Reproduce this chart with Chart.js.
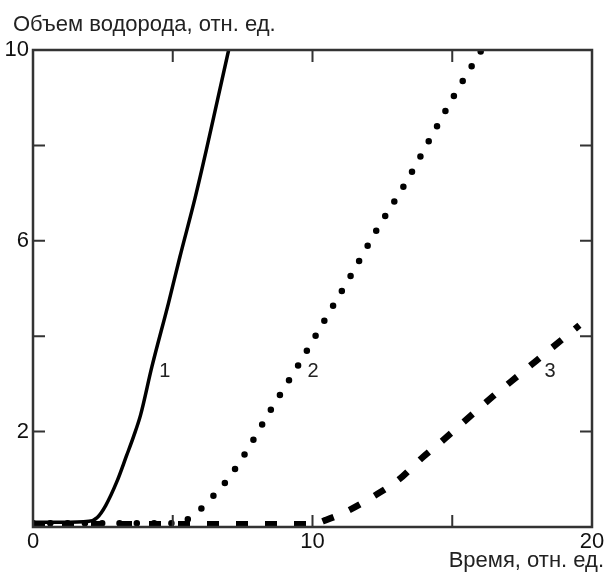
<!DOCTYPE html>
<html>
<head>
<meta charset="utf-8">
<script src="https://cdn.jsdelivr.net/npm/chart.js@4.4.1/dist/chart.umd.min.js"></script>
<style>
  html, body { margin: 0; padding: 0; background: #fff; }
  #wrap { width: 608px; height: 576px; }
</style>
</head>
<body>
<div id="wrap"><canvas id="h2-chart" width="608" height="576"></canvas></div>
<script>
// Curve 1 (solid)
const time1 = [0, 1, 2, 2.3, 2.6, 3.0, 3.35, 3.6, 3.85, 4.25, 4.85, 5.25, 5.8, 6.2, 6.6, 7.0];
const volume1 = [0.1, 0.1, 0.12, 0.2, 0.45, 0.95, 1.5, 1.9, 2.35, 3.35, 4.7, 5.65, 6.9, 7.9, 8.95, 10];

// Curve 2 (dotted)
const time2 = [0, 5.0, 5.4, 5.95, 6.45, 6.9, 7.6, 8.5, 9.5, 10.5, 11.4, 12.35, 13.35, 14.2, 15.1, 16.05];
const volume2 = [0.08, 0.08, 0.12, 0.35, 0.65, 0.95, 1.55, 2.45, 3.4, 4.4, 5.3, 6.28, 7.23, 8.13, 9.08, 10];

// Curve 3 (dashed)
const time3 = [0, 10, 10.5, 11.2, 12.15, 13.1, 13.9, 14.75, 15.6, 16.5, 17.5, 18.45, 19.55];
const volume3 = [0.06, 0.06, 0.15, 0.32, 0.63, 1.0, 1.44, 1.86, 2.3, 2.76, 3.24, 3.7, 4.23];

// Curve numbers
const curveNames = ['1', '2', '3'];
const curveNameX = [4.72, 10.02, 18.5];
const curveNameY = [3.25, 3.25, 3.25];

// Axes
const xTickValues = [0, 5, 10, 15, 20];
const xTickLabels = ['0', '', '10', '', '20'];
const yTickValues = [0, 2, 4, 6, 8, 10];
const yTickLabels = ['', '2', '', '6', '', '10'];

const yTitle = 'Объем водорода, отн. ед.';
const xTitle = 'Время, отн. ед.';

const FONT = '"Liberation Sans", Arial, sans-serif';
const INK = '#000';
const AXIS = '#333';

function toPoints(xs, ys) {
  return xs.map((x, i) => ({ x: x, y: ys[i] }));
}

// frame with inward ticks, curve numbers and axis titles
const framePlugin = {
  id: 'frame',
  afterDraw(chart) {
    const ctx = chart.ctx;
    const a = chart.chartArea;
    const xs = chart.scales.x;
    const ys = chart.scales.y;
    ctx.save();
    ctx.strokeStyle = AXIS;
    ctx.lineWidth = 2.5;
    ctx.strokeRect(a.left, a.top, a.right - a.left, a.bottom - a.top);
    ctx.lineWidth = 2;
    const tl = 12;
    xTickValues.forEach(v => {
      if (v === xs.min || v === xs.max) return;
      const px = xs.getPixelForValue(v);
      ctx.beginPath();
      ctx.moveTo(px, a.bottom); ctx.lineTo(px, a.bottom - tl);
      ctx.moveTo(px, a.top); ctx.lineTo(px, a.top + tl);
      ctx.stroke();
    });
    yTickValues.forEach(v => {
      if (v === ys.min || v === ys.max) return;
      const py = ys.getPixelForValue(v);
      ctx.beginPath();
      ctx.moveTo(a.left, py); ctx.lineTo(a.left + tl, py);
      ctx.moveTo(a.right, py); ctx.lineTo(a.right - tl, py);
      ctx.stroke();
    });

    ctx.fillStyle = '#222';
    ctx.font = '20px ' + FONT;
    ctx.textAlign = 'center';
    ctx.textBaseline = 'middle';
    curveNames.forEach((n, i) => {
      ctx.fillText(n, xs.getPixelForValue(curveNameX[i]), ys.getPixelForValue(curveNameY[i]));
    });

    ctx.font = '22px ' + FONT;
    ctx.textBaseline = 'alphabetic';
    ctx.textAlign = 'left';
    ctx.fillText(yTitle, 13, 31);
    ctx.textAlign = 'right';
    ctx.fillText(xTitle, 604, 567);
    ctx.restore();
  }
};

const ctxH2 = document.getElementById('h2-chart').getContext('2d');
const h2Chart = new Chart(ctxH2, {
  type: 'line',
  data: {
    datasets: [
      {
        label: '1', data: toPoints(time1, volume1),
        borderColor: INK, borderWidth: 3.5, pointRadius: 0,
        cubicInterpolationMode: 'monotone'
      },
      {
        label: '2', data: toPoints(time2, volume2),
        borderColor: INK, borderWidth: 6.5, pointRadius: 0,
        borderDash: [0, 17.3], borderCapStyle: 'round',
        cubicInterpolationMode: 'monotone'
      },
      {
        label: '3', data: toPoints(time3, volume3),
        borderColor: INK, borderWidth: 6.5, pointRadius: 0,
        borderDash: [12, 17], borderCapStyle: 'butt',
        cubicInterpolationMode: 'monotone'
      }
    ]
  },
  options: {
    responsive: false,
    animation: false,
    events: [],
    layout: { padding: { top: 50, right: 16, left: 0, bottom: 0 } },
    plugins: { legend: { display: false }, tooltip: { enabled: false } },
    scales: {
      x: {
        type: 'linear', min: 0, max: 20,
        afterBuildTicks: (scale) => { scale.ticks = xTickValues.map(v => ({ value: v })); },
        afterFit: (scale) => { scale.height = 49; },
        grid: { display: false, drawTicks: false },
        border: { display: false },
        ticks: {
          padding: 2,
          color: '#111',
          font: { family: FONT, size: 22 },
          maxRotation: 0,
          callback: (v) => xTickLabels[xTickValues.indexOf(v)]
        }
      },
      y: {
        type: 'linear', min: 0, max: 10,
        afterBuildTicks: (scale) => { scale.ticks = yTickValues.map(v => ({ value: v })); },
        afterFit: (scale) => { scale.width = 33; },
        grid: { display: false, drawTicks: false },
        border: { display: false },
        ticks: {
          padding: 4,
          color: '#111',
          font: { family: FONT, size: 22 },
          callback: (v) => yTickLabels[yTickValues.indexOf(v)]
        }
      }
    }
  },
  plugins: [framePlugin]
});
</script>
</body>
</html>
